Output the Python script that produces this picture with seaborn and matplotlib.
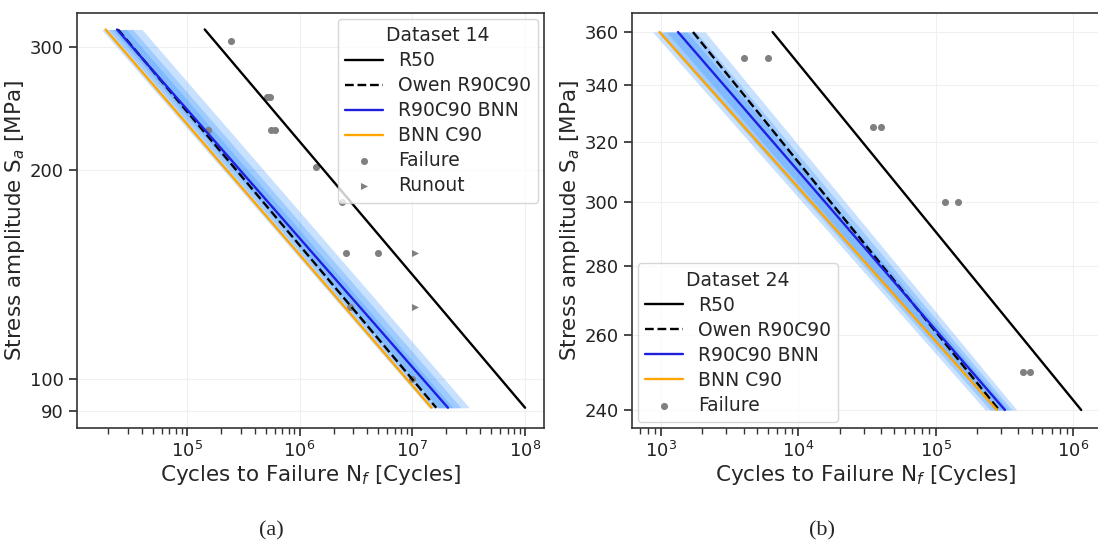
import matplotlib
matplotlib.use("Agg")
import matplotlib.pyplot as plt
import matplotlib.ticker as mticker
import numpy as np
import seaborn as sns

# ---- Dataset 14 (panel a) ----
s14 = [318, 91]                      # stress range of the design curves [MPa]
r50_14 = [1.44e5, 1.0e8]
owen_14 = [2.45e4, 1.63e7]
bnn_14 = [2.4e4, 2.07e7]
c90_14 = [1.9e4, 1.48e7]
# BNN sample spread (outer -> inner), cycles at top / bottom stress
band14_lo = [[1.75e4, 1.40e7], [2.0e4, 1.55e7], [2.2e4, 1.70e7]]
band14_hi = [[4.0e4, 3.2e7], [3.3e4, 2.7e7], [2.9e4, 2.3e7]]
fail14_n = [2.46e5, 5.1e5, 5.5e5, 1.53e5, 5.6e5, 6.1e5, 1.4e6, 2.4e6, 2.57e6, 5.0e6, 2.8e6, 1.0e7]
fail14_s = [306, 254, 254, 228, 228, 228, 202, 180, 152, 152, 127, 100]
run14_n = [1.05e7, 1.05e7]
run14_s = [152, 127]

# ---- Dataset 24 (panel b) ----
s24 = [360, 240]
r50_24 = [6.5e3, 1.15e6]
owen_24 = [1.71e3, 2.9e5]
bnn_24 = [1.33e3, 3.2e5]
c90_24 = [975, 2.8e5]
band24_lo = [[870, 2.3e5], [950, 2.5e5], [1100, 2.7e5]]
band24_hi = [[2100, 3.9e5], [1800, 3.6e5], [1550, 3.4e5]]
fail24_n = [4.0e3, 6.0e3, 3.5e4, 4.0e4, 1.17e5, 1.45e5, 4.3e5, 4.9e5]
fail24_s = [350, 350, 325, 325, 300, 300, 250, 250]

sns.set_theme(style="ticks")
plt.rcParams.update({
    "font.family": ["DejaVu Sans"],
    "axes.edgecolor": "#333333",
    "axes.linewidth": 1.2,
    "xtick.color": "#333333",
    "ytick.color": "#333333",
    "xtick.labelcolor": "#222222",
    "ytick.labelcolor": "#222222",
})

fig = plt.figure(figsize=(10.98, 5.54), dpi=100)
ax1 = fig.add_axes([0.0701, 0.2274, 0.4253, 0.749])
ax2 = fig.add_axes([0.5756, 0.2274, 0.4253, 0.749])


def draw_panel(ax, s, r50, owen, bnn, c90, blo, bhi, fn, fs, rn=None, rs=None):
    for lo, hi in zip(blo, bhi):
        ax.fill_betweenx(s, lo, hi, color="#2b8cff", alpha=0.26, linewidth=0)
    sns.lineplot(x=r50, y=s, ax=ax, color="black", lw=1.7, label="R50", sort=False)
    sns.lineplot(x=owen, y=s, ax=ax, color="black", lw=1.7, ls="--", label="Owen R90C90", sort=False)
    sns.lineplot(x=bnn, y=s, ax=ax, color="#1f1fe0", lw=1.7, label="R90C90 BNN", sort=False)
    sns.lineplot(x=c90, y=s, ax=ax, color="#ffa500", lw=1.7, label="BNN C90", sort=False)
    sns.scatterplot(x=fn, y=fs, ax=ax, color="#808080", s=26, linewidth=0, label="Failure")
    if rn is not None:
        sns.scatterplot(x=rn, y=rs, ax=ax, color="#808080", marker=">", s=26,
                        linewidth=0, label="Runout")
    ax.set_xscale("log")
    ax.set_yscale("log")
    ax.grid(True, which="major", color="#f0f0f0", lw=0.8)
    ax.set_xlabel("Cycles to Failure N$_f$ [Cycles]", fontsize=15.5, labelpad=1)
    ax.set_ylabel("Stress amplitude S$_a$ [MPa]", fontsize=15.5, labelpad=2)
    ax.tick_params(labelsize=13)
    for sp in ax.spines.values():
        sp.set_visible(True)


draw_panel(ax1, s14, r50_14, owen_14, bnn_14, c90_14, band14_lo, band14_hi,
           fail14_n, fail14_s, run14_n, run14_s)
ax1.set_xlim(1.06e4, 1.47e8)
ax1.set_ylim(85.1, 335.7)
ax1.yaxis.set_major_locator(mticker.FixedLocator([90, 100, 200, 300]))
ax1.yaxis.set_major_formatter(mticker.FixedFormatter(["90", "100", "200", "300"]))
ax1.yaxis.set_minor_locator(mticker.NullLocator())
ax1.legend(title="Dataset 14", loc="upper right", fontsize=13.5, title_fontsize=13.5,
           borderaxespad=0.3, labelspacing=0.32, handlelength=2.0)

draw_panel(ax2, s24, r50_24, owen_24, bnn_24, c90_24, band24_lo, band24_hi,
           fail24_n, fail24_s)
ax2.set_xlim(615, 1.55e6)
ax2.set_ylim(235.4, 367.4)
yt = [240, 260, 280, 300, 320, 340, 360]
ax2.yaxis.set_major_locator(mticker.FixedLocator(yt))
ax2.yaxis.set_major_formatter(mticker.FixedFormatter([str(v) for v in yt]))
ax2.yaxis.set_minor_locator(mticker.NullLocator())
ax2.legend(title="Dataset 24", loc="lower left", fontsize=13.5, title_fontsize=13.5,
           borderaxespad=0.3, labelspacing=0.32, handlelength=2.0)

fig.text(0.247, 0.042, "(a)", fontsize=16, family="Liberation Serif", ha="center", va="center")
fig.text(0.749, 0.042, "(b)", fontsize=16, family="Liberation Serif", ha="center", va="center")

fig.savefig("out.png", dpi=100)
